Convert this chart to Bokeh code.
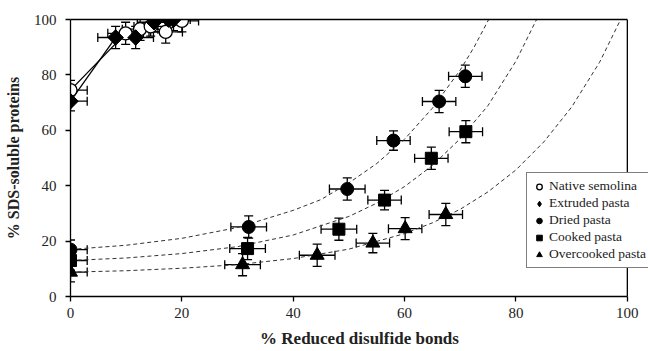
from bokeh.plotting import figure
from bokeh.models import (Whisker, ColumnDataSource, Legend, LegendItem, TeeHead, Range1d,
                          FixedTicker, LinearAxis, Span)
from bokeh.embed import file_html
from bokeh.resources import INLINE
import numpy as np

# ---- data ----
native_x = [0, 9.9, 12.5, 14.4, 17.1, 20.0]
native_y = [74.5, 95.0, 96.5, 97.5, 95.5, 99.5]
extruded_x = [0, 8.1, 11.7, 15.0, 17.6, 18.5]
extruded_y = [70.5, 93.5, 93.5, 99.0, 100.0, 100.0]
dried_x = [0, 32.0, 49.7, 58.0, 66.2, 70.9]
dried_y = [16.9, 25.1, 38.8, 56.3, 70.4, 79.5]
cooked_x = [0, 31.8, 48.2, 56.4, 64.8, 71.0]
cooked_y = [13.0, 17.3, 24.3, 34.8, 49.9, 59.5]
over_x = [0, 30.9, 44.3, 54.3, 60.1, 67.4]
over_y = [8.8, 11.5, 14.9, 19.3, 24.5, 29.6]
x_err = [3.0, 3.2, 3.2, 3.0, 3.0, 3.0]
y_err = [3.5, 4.0, 4.0, 3.5, 4.0, 4.0]

# dashed trend curves
dried_fit_x = [0, 10, 20, 30, 40, 45, 50, 55, 60, 65, 70, 72.5, 75.1]
dried_fit_y = [17.0, 18.5, 21.0, 24.9, 31.1, 35.0, 41.0, 48.0, 56.8, 68.0, 81.8, 90.1, 100]
cooked_fit_x = [0, 10, 20, 30, 40, 50, 55, 60, 65, 70, 75, 80, 83.7]
cooked_fit_y = [13.0, 13.9, 15.5, 18.0, 22.2, 28.9, 33.7, 39.7, 47.3, 57.0, 69.0, 85.0, 100]
over_fit_x = [0, 10, 20, 30, 40, 50, 60, 65, 70, 75, 80, 85, 90, 95, 98.8]
over_fit_y = [8.8, 9.3, 10.2, 11.5, 13.7, 17.1, 22.7, 26.6, 31.5, 37.8, 45.7, 55.8, 68.4, 84.5, 100]

x_ticks = [0, 20, 40, 60, 80, 100]
y_ticks = [0, 20, 40, 60, 80, 100]

FONT = "Times"

# plotting area extends right of x=100 so the legend (which overhangs the
# frame in the reference) is not clipped
p = figure(width=648, height=351, output_backend="svg", toolbar_location=None,
           x_range=Range1d(0, 103.8), y_range=Range1d(0, 100),
           min_border_left=70, min_border_right=0, min_border_top=19, min_border_bottom=55)
p.grid.visible = False
p.outline_line_color = None
p.background_fill_color = "white"
p.border_fill_color = "white"

top_axis = LinearAxis(bounds=(0, 100), major_tick_line_color=None, minor_tick_line_color=None,
                      major_label_text_color=None, major_label_standoff=0,
                      major_tick_out=0, major_tick_in=0,
                      axis_line_width=1.3, axis_line_color="black")
top_axis.ticker = FixedTicker(ticks=[])
p.add_layout(top_axis, "above")
p.add_layout(Span(location=100, dimension="height", line_color="black", line_width=1.3))

for ax, ticks in ((p.below[0], x_ticks), (p.left[0], y_ticks)):
    ax.ticker = FixedTicker(ticks=ticks)
    ax.bounds = (0, 100)
    ax.minor_tick_line_color = None
    ax.major_tick_out = 5
    ax.major_tick_in = 0
    ax.axis_line_width = 1.3
    ax.major_tick_line_width = 1.3
    ax.axis_line_color = "black"
    ax.major_tick_line_color = "black"
    ax.major_label_text_font = FONT
    ax.major_label_text_font_size = "15px"
    ax.major_label_text_color = "#222222"
    ax.axis_label_text_font = FONT
    ax.axis_label_text_font_style = "bold"
    ax.axis_label_text_color = "#222222"

xa = p.below[0]
ya = p.left[0]
xa.axis_label = "% Reduced disulfide bonds"
ya.axis_label = "% SDS-soluble proteins"
xa.axis_label_text_font_size = "17px"
ya.axis_label_text_font_size = "16px"
xa.major_label_standoff = 6
ya.major_label_standoff = 9
xa.axis_label_standoff = 8
ya.axis_label_standoff = 9

# trend curves
for fx, fy in ((dried_fit_x, dried_fit_y), (cooked_fit_x, cooked_fit_y), (over_fit_x, over_fit_y)):
    p.line(fx, fy, line_color="#333333", line_width=1, line_dash="4 3")

# connecting lines
p.line(native_x, native_y, line_color="black", line_width=1.3)
p.line(extruded_x, extruded_y, line_color="black", line_width=1.3)

def add_errors(xs, ys):
    xs = np.array(xs, dtype=float)
    ys = np.array(ys, dtype=float)
    xe = np.array(x_err, dtype=float)
    ye = np.array(y_err, dtype=float)
    src = ColumnDataSource(dict(x=xs, y=ys,
                                xl=np.maximum(xs - xe, 0), xu=xs + xe,
                                yl=ys - ye, yu=np.minimum(ys + ye, 101)))
    for dim, base, lo, up in (("width", "y", "xl", "xu"), ("height", "x", "yl", "yu")):
        w = Whisker(source=src, base=base, lower=lo, upper=up, dimension=dim,
                    line_color="black", line_width=1.3, level="underlay",
                    upper_head=TeeHead(size=9, line_color="black", line_width=1.3),
                    lower_head=TeeHead(size=9, line_color="black", line_width=1.3))
        p.add_layout(w)

for xs, ys in ((native_x, native_y), (extruded_x, extruded_y), (dried_x, dried_y),
               (cooked_x, cooked_y), (over_x, over_y)):
    add_errors(xs, ys)

r_native = p.scatter(native_x, native_y, marker="circle", size=13, fill_color="white",
                     line_color="black", line_width=1.3)
# diamond glyph (also used for the legend, which ignores marker rotation)
r_extr_leg = p.scatter(extruded_x, extruded_y, marker="diamond", size=15, fill_color="black",
                       line_color="black")
r_extr = p.scatter(extruded_x, extruded_y, marker="square", angle=np.pi / 4, size=11,
                   fill_color="black", line_color="black")
r_dried = p.scatter(dried_x, dried_y, marker="circle", size=13, fill_color="black",
                    line_color="black")
r_cooked = p.scatter(cooked_x, cooked_y, marker="square", size=12, fill_color="black",
                     line_color="black")
r_over = p.scatter(over_x, over_y, marker="triangle", size=14, fill_color="black",
                   line_color="black")

legend = Legend(items=[
    LegendItem(label="Native semolina", renderers=[r_native]),
    LegendItem(label="Extruded pasta", renderers=[r_extr_leg]),
    LegendItem(label="Dried pasta", renderers=[r_dried]),
    LegendItem(label="Cooked pasta", renderers=[r_cooked]),
    LegendItem(label="Overcooked pasta", renderers=[r_over]),
], location=(456, 28))
legend.border_line_color = "black"
legend.border_line_width = 1
legend.background_fill_color = "white"
legend.background_fill_alpha = 1
legend.label_text_font = FONT
legend.label_text_font_size = "13.5px"
legend.label_text_color = "#222222"
legend.glyph_height = 15
legend.glyph_width = 14
legend.label_height = 15
legend.spacing = 1
legend.padding = 5
legend.margin = 0
legend.label_standoff = 3
p.add_layout(legend)

open("out.html", "w").write(file_html(p, INLINE))
